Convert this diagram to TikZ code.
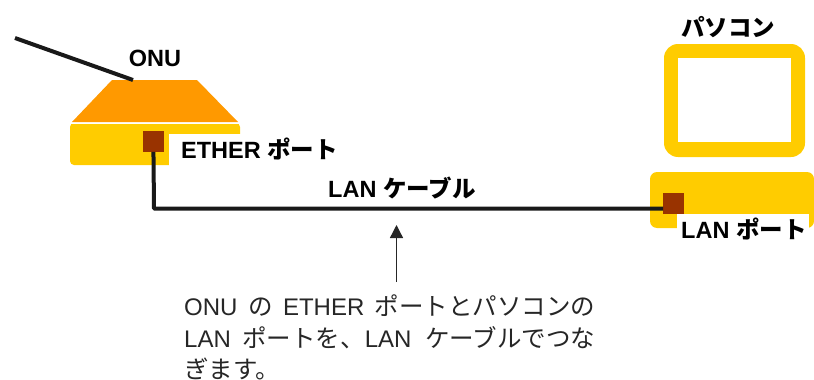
\documentclass[tikz,border=0pt]{standalone}
\usepackage{fontspec}
\setmainfont{Liberation Sans}
\newfontfamily\cjk[Scale=1.02]{Noto Sans CJK JP}
\newfontfamily\cjkb{Noto Sans CJK JP Bold}
\definecolor{onutop}{HTML}{FF9900}
\definecolor{gold}{HTML}{FFCC00}
\definecolor{port}{HTML}{993300}
\usetikzlibrary{arrows.meta}
\tikzset{
  lbl/.style={inner sep=0pt,font=\fontsize{23.5}{26}\selectfont\bfseries,text=black},
  body/.style={inner sep=0pt,font=\fontsize{24}{31.5}\selectfont,text=black!85},
  cable/.style={line width=4pt,black!90},
  portbox/.style={fill=port,draw=none,minimum width=20.5pt,minimum height=20.5pt,inner sep=0pt}
}
\begin{document}
\begin{tikzpicture}[x=1pt,y=-1pt]
\useasboundingbox (0,0) rectangle (814,380);
% ONU
\fill[gold,rounded corners=4pt] (70,123) rectangle (240,165);
\fill[white] (169,134) rectangle (241,166);
\fill[white] (70,122) rectangle (240,124);
\fill[onutop] (112,80) -- (197,80) -- (238,122) -- (72,122) -- cycle;
\coordinate (wire) at (15,38);
\coordinate (roof) at (133,80);
\draw[cable] (wire) -- (roof);
\node[portbox,anchor=north west] (onuport) at (143,131) {};
% PC
\fill[gold,rounded corners=14pt] (664,44) rectangle (805,157);
\fill[white] (678,58) rectangle (791,142);
\fill[gold,rounded corners=7pt] (650,172) -- (814,172) -- (814,228) -- (650,228) -- cycle;
\fill[white] (677,214) rectangle (809,240);
\node[portbox,anchor=north west] (lanport) at (663,193) {};
% cable
\coordinate (bend) at (154,208.5);
\draw[cable,line join=round] (onuport.south) -- (bend) -- (lanport.west |- bend);
% labels
\node[lbl,anchor=center] (onu) at (155,58) {ONU};
\node[lbl,anchor=west] (ether) at (181,149) {ETHER {\cjkb ポート}};
\node[lbl,anchor=west] (cablelbl) at (328,188) {LAN {\cjkb ケーブル}};
\node[lbl,anchor=center] (pc) at (728,27) {\cjkb パソコン};
\node[lbl,anchor=west] (lanlbl) at (681,229) {LAN {\cjkb ポート}};
% callout
\node[body,anchor=north west,align=left] (note) at (184,295) {\spaceskip=10.5pt ONU {\cjk の} ETHER {\cjk ポートとパソコンの}\\\spaceskip=11.5pt LAN {\cjk ポートを、}LAN\spaceskip=14pt{} {\cjk ケーブルでつな}\\{\cjk ぎます。}};
\coordinate (tip) at (396.5,225);
\coordinate (tail) at (396.5,282);
\draw[line width=1.3pt,black!85,-{Triangle[length=13pt,width=13pt]}] (tail) -- (tip);
\end{tikzpicture}
\end{document}
